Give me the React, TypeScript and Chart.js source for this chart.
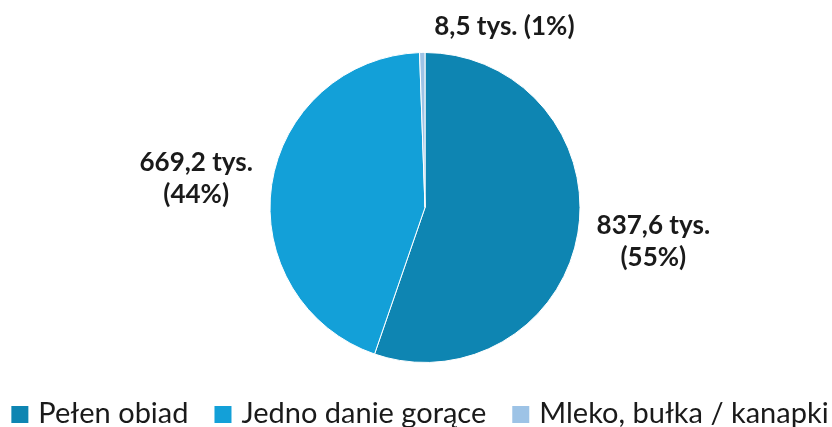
import React, { useEffect, useRef } from "react";
import { Chart, registerables } from "chart.js";

Chart.register(...registerables);

const categories = ["Pełen obiad", "Jedno danie gorące", "Mleko, bułka / kanapki"];
const values = [837.6, 669.2, 8.5];
const valueLabels = ["837,6 tys.", "669,2 tys.", "8,5 tys."];
const percentLabels = ["(55%)", "(44%)", "(1%)"];
const colors = ["#0E85B2", "#13A0D8", "#9DC3E6"];

const FONT = "Lato, 'Open Sans', sans-serif";
const TEXT = "#1a1a1a";

const labelPlugin = {
  id: "outsideLabels",
  afterDatasetsDraw(chart: any) {
    const ctx = chart.ctx;
    const meta = chart.getDatasetMeta(0);
    ctx.save();
    ctx.fillStyle = TEXT;
    ctx.font = `bold 26px ${FONT}`;
    ctx.textBaseline = "alphabetic";
    const gap = 19;
    const capHalf = 9;
    const lineHalf = 16;
    meta.data.forEach((arc: any, i: number) => {
      const p = arc.getProps(["x", "y", "startAngle", "endAngle", "outerRadius"], true);
      const mid = (p.startAngle + p.endAngle) / 2;
      const dx = Math.cos(mid);
      const dy = Math.sin(mid);
      if (Math.abs(dy) > 0.95) {
        const text = `${valueLabels[i]} ${percentLabels[i]}`;
        ctx.textAlign = "left";
        ctx.fillText(text, p.x + dx * p.outerRadius + 12, p.y + dy * (p.outerRadius + 18));
      } else {
        const w = Math.max(
          ctx.measureText(valueLabels[i]).width,
          ctx.measureText(percentLabels[i]).width
        );
        const h = 55;
        const ax = p.x + dx * (p.outerRadius + gap);
        const ay = p.y + dy * (p.outerRadius + gap);
        const cx = ax + Math.sign(dx) * w / 2;
        const cy = ay + dy * h / 2;
        ctx.textAlign = "center";
        ctx.fillText(valueLabels[i], cx, cy - lineHalf + capHalf);
        ctx.fillText(percentLabels[i], cx, cy + lineHalf + capHalf);
      }
    });
    ctx.restore();
  },
};

const legendPlugin = {
  id: "customLegend",
  afterDraw(chart: any) {
    const ctx = chart.ctx;
    const box = 17;
    const textGap = 10;
    const itemGap = 26;
    const baseline = 423;
    ctx.save();
    ctx.font = `29px ${FONT}`;
    const widths = categories.map((c) => ctx.measureText(c).width);
    const total =
      widths.reduce((a, b) => a + b, 0) + categories.length * (box + textGap) + (categories.length - 1) * itemGap;
    let x = (chart.width - total) / 2 + 4;
    categories.forEach((c, i) => {
      ctx.fillStyle = colors[i];
      ctx.fillRect(x, baseline - box, box, box);
      x += box + textGap;
      ctx.fillStyle = TEXT;
      ctx.textAlign = "left";
      ctx.textBaseline = "alphabetic";
      ctx.fillText(c, x, baseline);
      x += widths[i] + itemGap;
    });
    ctx.restore();
  },
};

export default function App() {
  const ref = useRef<HTMLCanvasElement>(null);
  useEffect(() => {
    document.body.style.margin = "0";
    const chart = new Chart(ref.current!, {
      type: "pie",
      data: {
        labels: categories,
        datasets: [
          {
            data: values,
            backgroundColor: colors,
            borderColor: "#ffffff",
            borderWidth: 1,
          },
        ],
      },
      options: {
        animation: false,
        responsive: false,
        rotation: 0,
        layout: { padding: { top: 52, left: 18, right: 0, bottom: 64 } },
        plugins: {
          legend: { display: false },
          tooltip: { enabled: false },
        },
      },
      plugins: [labelPlugin, legendPlugin],
    });
    return () => chart.destroy();
  }, []);
  return (
    <div style={{ width: 832, height: 427 }}>
      <canvas ref={ref} width={832} height={427} style={{ display: "block" }} />
    </div>
  );
}
